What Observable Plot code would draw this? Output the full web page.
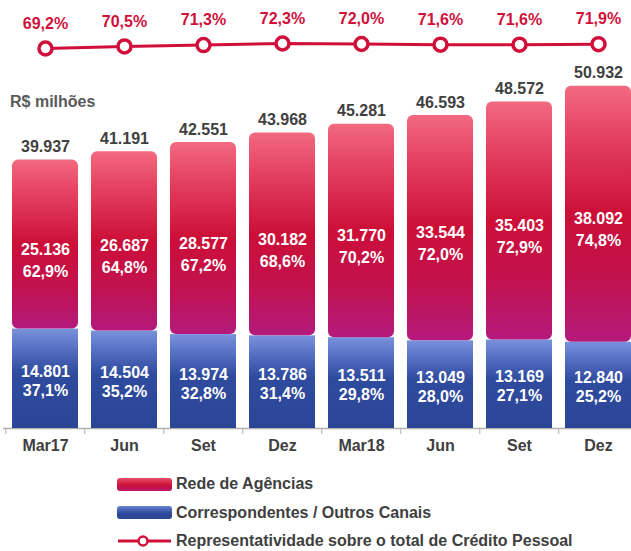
<!DOCTYPE html>
<html>
<head>
<meta charset="utf-8">
<script src="https://cdn.jsdelivr.net/npm/d3@7"></script>
<script src="https://cdn.jsdelivr.net/npm/@observablehq/plot@0.6"></script>
<style>
  body { margin: 0; background: #fff; font-family: "Liberation Sans", Arial, sans-serif; }
  #wrap { position: relative; width: 631px; height: 551px; overflow: hidden; }
  #wrap > .layer { position: absolute; left: 0; top: 0; }
  #unit { position: absolute; left: 10px; top: 93px; font-size: 16px; font-weight: bold; color: #595959; }
  #legend { position: absolute; left: 117px; top: 470px; font-size: 16px; font-weight: bold; color: #404040; }
  .row { display: flex; align-items: center; height: 28.5px; }
  .sw { width: 55px; height: 13px; border-radius: 3px; margin-right: 4px; }
  .sw.red { background: linear-gradient(#e8506c, #cc1038 55%, #b91a6c); }
  .sw.blue { background: linear-gradient(#6a84d4, #2e4a9c 55%, #2c4696); }
  .row svg { margin-right: 4px; }
</style>
</head>
<body>
<div id="wrap">
  <div id="unit">R$ milhões</div>
  <div id="legend">
    <div class="row"><div class="sw red"></div><span>Rede de Agências</span></div>
    <div class="row"><div class="sw blue"></div><span>Correspondentes / Outros Canais</span></div>
    <div class="row"><svg width="55" height="14"><line x1="1" x2="54" y1="7" y2="7" stroke="#d0103a" stroke-width="3"/><circle cx="26" cy="7" r="4.5" fill="#fff" stroke="#d0103a" stroke-width="2.5"/></svg><span>Representatividade sobre o total de Crédito Pessoal</span></div>
  </div>
</div>
<script>
const labels = ["Mar17","Jun","Set","Dez","Mar18","Jun","Set","Dez"];
const agencias = [25136,26687,28577,30182,31770,33544,35403,38092];
const correspondentes = [14801,14504,13974,13786,13511,13049,13169,12840];
const totais = [39937,41191,42551,43968,45281,46593,48572,50932];
const pctAgencias = [62.9,64.8,67.2,68.6,70.2,72.0,72.9,74.8];
const pctCorresp = [37.1,35.2,32.8,31.4,29.8,28.0,27.1,25.2];
const representatividade = [69.2,70.5,71.3,72.3,72.0,71.6,71.6,71.9];

const loc = d3.formatLocale({decimal: ",", thousands: ".", grouping: [3], currency: ["R$", ""]});
const fInt = loc.format(",d");
const fPct = v => loc.format(".1f")(v) + "%";

const idx = labels.map((_, i) => i);
const data = idx.map(i => ({
  i, label: labels[i], red: agencias[i], blue: correspondentes[i], total: totais[i],
  pr: pctAgencias[i], pb: pctCorresp[i], rep: representatividade[i]
}));

const FONT = "Liberation Sans, Arial, sans-serif";
const RED = "#d0103a";
const DARK = "#404040";

function defs() {
  const d = d3.create("svg:defs");
  const r = d.append("linearGradient").attr("id", "gRed").attr("x1", 0).attr("x2", 0).attr("y1", 0).attr("y2", 1);
  [[0, "#f26a80"], [0.18, "#e64563"], [0.5, "#cc0f37"], [0.75, "#c2124e"], [1, "#b41a7c"]]
    .forEach(([o, c]) => r.append("stop").attr("offset", o).attr("stop-color", c));
  const b = d.append("linearGradient").attr("id", "gBlue").attr("x1", 0).attr("x2", 0).attr("y1", 0).attr("y2", 1);
  [[0, "#7a92dc"], [0.2, "#5670c4"], [0.45, "#2f4b9e"], [1, "#2c4696"]]
    .forEach(([o, c]) => b.append("stop").attr("offset", o).attr("stop-color", c));
  return d.node();
}

const step = 79.4, pad = 0.16;
const r0 = 10 - step * pad, r1 = r0 + step * (labels.length + pad);

const bars = Plot.plot({
  width: 631, height: 462,
  marginLeft: 3, marginRight: 0, marginTop: 0, marginBottom: 0,
  style: {fontFamily: FONT, background: "transparent"},
  x: {type: "band", domain: idx, range: [r0, r1], padding: pad, axis: null},
  y: {domain: [0, 50000], range: [428, 92], axis: null},
  marks: [
    defs,
    Plot.ruleX(idx, {x: d => d, dx: -step / 2, y1: 0, y2: -900, stroke: "#b0b0b0", strokeWidth: 1}),
    Plot.ruleY([0], {stroke: "#b0b0b0", strokeWidth: 1.5}),
    Plot.barY(data, {x: "i", y1: 0, y2: "blue", fill: "url(#gBlue)", inset: 0}),
    Plot.barY(data, {x: "i", y1: "blue", y2: "total", fill: "url(#gRed)", rx: 6, inset: 0}),
    Plot.text(data, {x: "i", y: "total", text: d => fInt(d.total), dy: -13, fill: DARK, fontSize: 16, fontWeight: "bold"}),
    Plot.text(data, {x: "i", y: d => d.blue + d.red / 2, text: d => fInt(d.red), dy: 5, fill: "#fff", fontSize: 16, fontWeight: "bold"}),
    Plot.text(data, {x: "i", y: d => d.blue + d.red / 2, text: d => fPct(d.pr), dy: 27, fill: "#fff", fontSize: 16, fontWeight: "bold"}),
    Plot.text(data, {x: "i", y: d => d.blue / 2, text: d => fInt(d.blue), dy: -7, fill: "#fff", fontSize: 16, fontWeight: "bold"}),
    Plot.text(data, {x: "i", y: d => d.blue / 2, text: d => fPct(d.pb), dy: 12, fill: "#fff", fontSize: 16, fontWeight: "bold"}),
    Plot.text(data, {x: "i", frameAnchor: "bottom", dy: -12, text: "label", fill: DARK, fontSize: 16, fontWeight: "bold"})
  ]
});
bars.classList.add("layer");

const line = Plot.plot({
  width: 631, height: 70,
  margin: 0,
  style: {fontFamily: FONT, background: "transparent"},
  x: {type: "point", domain: idx, range: [43.3, 43.3 + step * 7], padding: 0, axis: null},
  y: {domain: [69.2, 72.3], range: [48, 43], axis: null},
  marks: [
    Plot.line(data, {x: "i", y: "rep", stroke: RED, strokeWidth: 3}),
    Plot.dot(data, {x: "i", y: "rep", r: 6.5, fill: "#fff", stroke: RED, strokeWidth: 3.5}),
    Plot.text(data, {x: "i", y: "rep", text: d => fPct(d.rep), dy: -25, fill: RED, fontSize: 16, fontWeight: "bold"})
  ]
});
line.classList.add("layer");

const wrap = document.getElementById("wrap");
wrap.insertBefore(bars, wrap.firstChild);
wrap.insertBefore(line, wrap.firstChild);
</script>
</body>
</html>
